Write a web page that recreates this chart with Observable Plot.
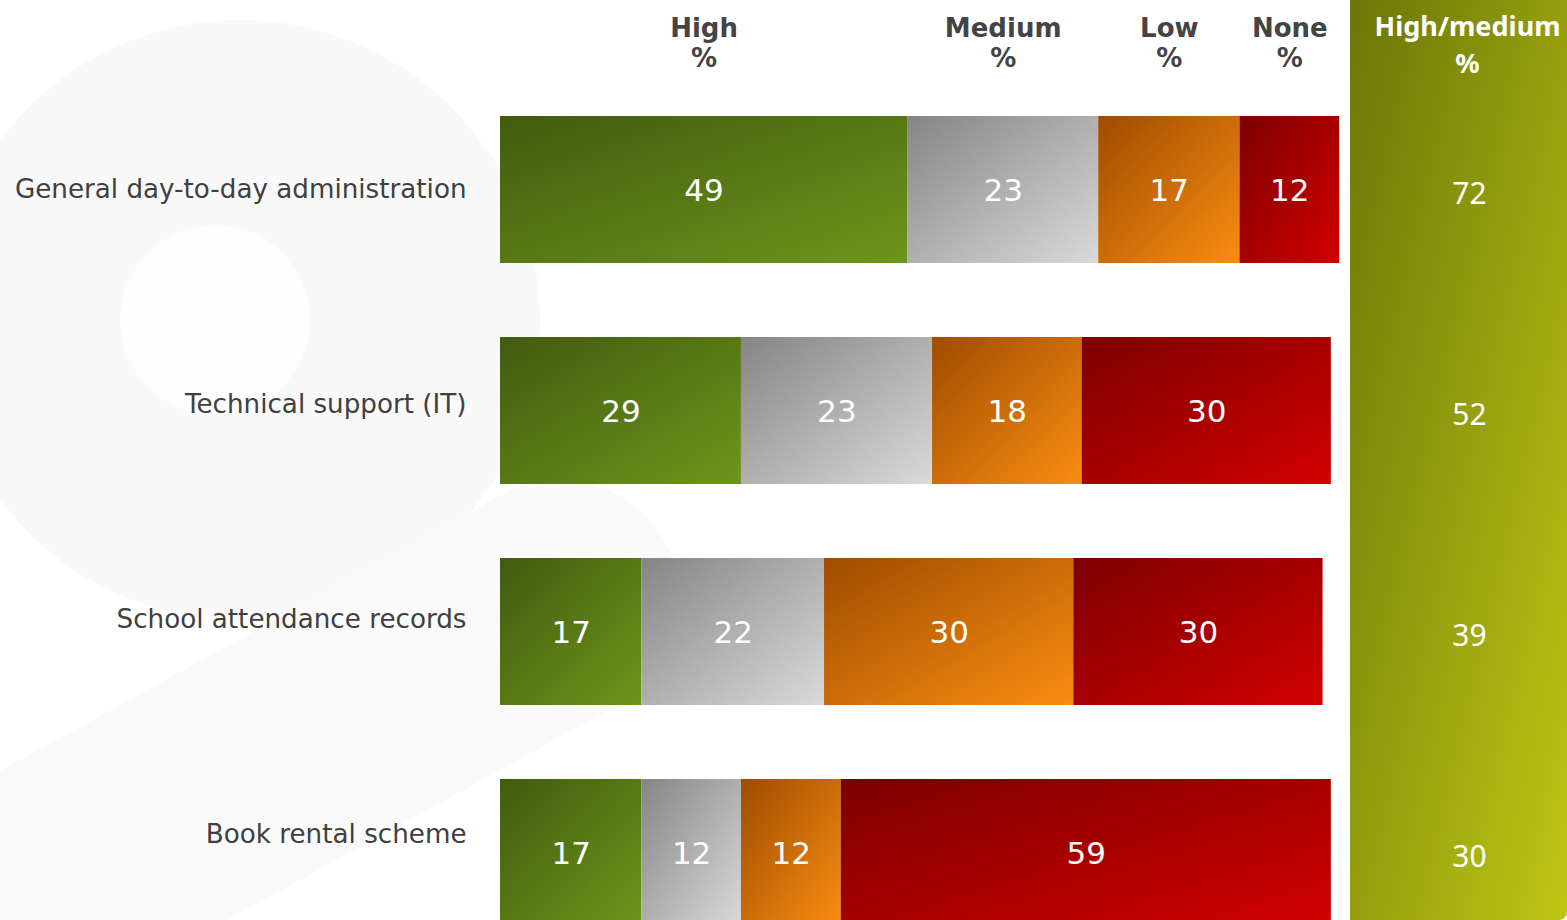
<!DOCTYPE html>
<html><head><meta charset="utf-8">
<script src="https://cdn.jsdelivr.net/npm/d3@7"></script>
<script src="https://cdn.jsdelivr.net/npm/@observablehq/plot@0.6"></script>
<style>
html,body{margin:0;padding:0;overflow:hidden;background:#fff;}
#wrap{position:relative;width:1567px;height:920px;overflow:hidden;}
#bg{position:absolute;left:0;top:0;}
#panel{position:absolute;left:1350px;top:0;width:217px;height:920px;background:linear-gradient(to bottom right,#6b7608,#bec714);border-bottom-right-radius:8px;}
#chart{position:absolute;left:0;top:0;}
#chart svg{background:transparent;}
</style></head><body>
<div id="wrap">
<svg id="bg" width="1567" height="920">
  <defs>
    <linearGradient id="gHigh" x1="0" y1="0" x2="1" y2="1"><stop offset="0" stop-color="#425a0f"/><stop offset="1" stop-color="#6d961b"/></linearGradient>
    <linearGradient id="gMedium" x1="0" y1="0" x2="1" y2="1"><stop offset="0" stop-color="#858585"/><stop offset="1" stop-color="#dadada"/></linearGradient>
    <linearGradient id="gLow" x1="0" y1="0" x2="1" y2="1"><stop offset="0" stop-color="#9e4c00"/><stop offset="1" stop-color="#fa8d12"/></linearGradient>
    <linearGradient id="gNone" x1="0" y1="0" x2="1" y2="1"><stop offset="0" stop-color="#7c0000"/><stop offset="1" stop-color="#d20000"/></linearGradient>
  </defs>
  <circle cx="240" cy="320" r="300" fill="#faf9fa"/>
  <line x1="-40" y1="930" x2="560" y2="600" stroke="#fbfafb" stroke-width="240" stroke-linecap="round"/>
  <circle cx="215" cy="320" r="95" fill="#fdfdfd"/>
</svg>
<div id="panel"></div>
<div id="chart"></div>
</div>
<script>
const categories = ["General day-to-day administration", "Technical support (IT)", "School attendance records", "Book rental scheme"];
const series = ["High", "Medium", "Low", "None"];
const high = [49, 29, 17, 17];
const medium = [23, 23, 22, 12];
const low = [17, 18, 30, 12];
const none = [12, 30, 30, 59];
const highMedium = [72, 52, 39, 30];

const seriesValues = [high, medium, low, none];
const rows = categories.flatMap((c, i) => series.map((s, j) => ({category: c, series: s, value: seriesValues[j][i]})));

// header positions: midpoints of the first row's segments
let acc = 0;
const headers = series.map((s, j) => { const v = seriesValues[j][0]; const mid = acc + v / 2; acc += v; return {series: s, mid}; });
const panelRows = categories.map((c, i) => ({category: c, value: highMedium[i]}));

const plot = Plot.plot({
  width: 1567,
  height: 920,
  marginLeft: 500,
  marginRight: 232,
  marginTop: 0,
  marginBottom: 0,
  style: {fontFamily: "'DejaVu Sans', sans-serif", background: "transparent", overflow: "visible"},
  x: {domain: [0, 100.5], axis: null},
  y: {domain: categories, range: [79, 963], paddingInner: 0.335, paddingOuter: 0.1675, align: 0.5, axis: null},
  color: {domain: series, range: series.map(s => `url(#g${s})`)},
  marks: [
    ...categories.map((c, i) => Plot.text([c], {y: d => d, text: d => d, frameAnchor: "left", dx: -34, dy: -6 * i, textAnchor: "end", fontSize: 26.2, fill: "#404040"})),
    Plot.barX(rows, {x: "value", y: "category", fill: "series"}),
    Plot.text(rows, Plot.stackX({x: "value", y: "category", text: d => String(d.value), fill: "white", fontSize: 31, dy: 1})),
    Plot.text(headers, {x: "mid", text: d => d.series + "\n%", frameAnchor: "top", dy: 42, lineAnchor: "middle", lineHeight: 1.15, fontWeight: "bold", fontSize: 26, fill: "#444"}),
    Plot.text(["High/medium\n%"], {text: d => d, frameAnchor: "top-right", dx: 132, dy: 42, lineAnchor: "middle", lineHeight: 1.36, textAnchor: "middle", fontWeight: "bold", fontSize: 27, fill: "white", fontFamily: "'Noto Sans', sans-serif"}),
    Plot.text(panelRows, {y: "category", text: d => String(d.value), frameAnchor: "right", dx: 134, dy: 4, textAnchor: "middle", fontSize: 30, fill: "white", fontFamily: "'Noto Sans', sans-serif"})
  ]
});
document.getElementById("chart").appendChild(plot);
</script>
</body></html>
